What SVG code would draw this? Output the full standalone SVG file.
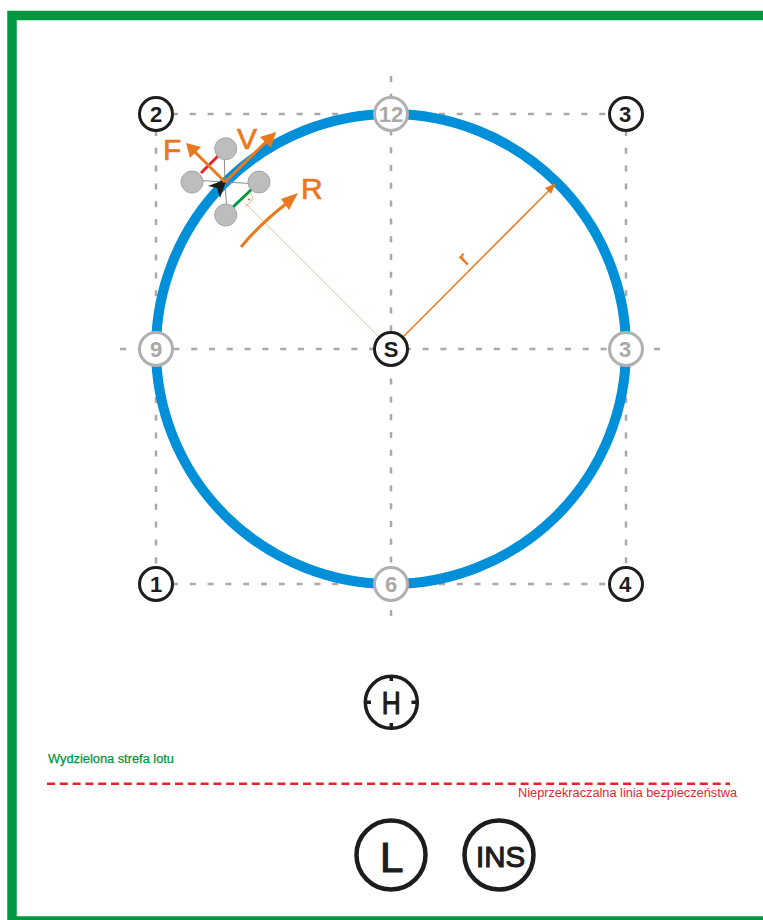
<svg xmlns="http://www.w3.org/2000/svg" width="763" height="920" viewBox="0 0 763 920">
<style>
text{font-family:"Liberation Sans",Arial,sans-serif}
.grid{fill:none;stroke:#a9a9a9;stroke-width:2.500;stroke-dasharray:6 11.800}
.n{fill:#fff;stroke:#1d1d1b;stroke-width:3}
.g{fill:#fff;stroke:#b0b0b0;stroke-width:3}
.nt{font-size:22px;font-weight:700;text-anchor:middle;fill:#1d1d1b}
.gt{font-size:22px;font-weight:700;text-anchor:middle;fill:#a9a9a9}
.rotor{fill:#bdbdbd;stroke:#a5a5a5;stroke-width:1}
.big{font-size:30px;fill:#e8791e;stroke:#e8791e;stroke-width:0.700}
.arm{stroke:#8a8a8a;stroke-width:1;fill:none}
.or{stroke:#e8791e;fill:none}
.head{fill:#e8791e}
.blk{fill:#1d1d1b;stroke:#1d1d1b}
</style>
<rect id="frame" x="12" y="15.500" width="760" height="905.500" fill="#fff" stroke="#009640" stroke-width="9.500"/>
<g id="connectors">
<path class="grid" d="M120 349H660M391 76V618M172 114H612M172 584H612M156 130V568M626 130V568"/>
<circle cx="391" cy="349" r="235" fill="none" stroke="#0090da" stroke-width="10"/>
<path d="M245 203L382 340" fill="none" stroke="#f5c49a" stroke-width="1"/>
<path d="M250.700 193.300Q256 200 245 206.500" fill="none" stroke="#f0a060" stroke-width="0.800"/>
<circle cx="249" cy="199.500" r="1.100" fill="#e8791e"/>
<path class="or" stroke-width="1.500" d="M403 337L550 189.500"/>
<path class="head" d="M556 183L551 194 545 188Z"/>
</g>
<g id="node-2"><circle class="n" cx="156" cy="114" r="16.500"/><text class="nt" x="156" y="121.800">2</text></g>
<g id="node-12"><circle class="g" cx="391" cy="114" r="16.500"/><text class="gt" x="391" y="121.800">12</text></g>
<g id="node-3a"><circle class="n" cx="626" cy="114" r="16.500"/><text class="nt" x="625" y="121.800">3</text></g>
<g id="node-9"><circle class="g" cx="156" cy="349" r="16.500"/><text class="gt" x="156" y="356.800">9</text></g>
<g id="node-S"><circle class="n" cx="391" cy="349" r="16.500"/><text class="nt" x="391" y="356.800">S</text></g>
<g id="node-3b"><circle class="g" cx="626" cy="349" r="16.500"/><text class="gt" x="625" y="356.800">3</text></g>
<g id="node-1"><circle class="n" cx="156" cy="584" r="16.500"/><text class="nt" x="156" y="591.800">1</text></g>
<g id="node-6"><circle class="g" cx="391" cy="584" r="16.500"/><text class="gt" x="391" y="591.800">6</text></g>
<g id="node-4"><circle class="n" cx="626" cy="584" r="16.500"/><text class="nt" x="625" y="591.800">4</text></g>
<g id="drone">
<path class="arm" d="M225 182L224 148M225 182L192 180M225 182L259 184M225 182L227 215"/>
<path d="M201 173L218 156" stroke="#e3262e" stroke-width="3" fill="none"/>
<path d="M233 207L252 189" stroke="#009640" stroke-width="3" fill="none"/>
<circle class="rotor" cx="225.700" cy="148.700" r="11"/>
<circle class="rotor" cx="192" cy="182" r="11"/>
<circle class="rotor" cx="259" cy="182" r="11"/>
<circle class="rotor" cx="225.700" cy="215" r="11"/>
<path d="M208 186L227 179 220 198 217 188Z" fill="#1d1d1b"/>
</g>
<g id="vectors">
<path class="or" stroke-width="3" d="M225 182L192 149M225 182L268 140"/>
<path class="head" d="M186 143L201 147 190 158Z"/>
<path class="head" d="M276 132L271 148 260 137Z"/>
<path class="or" stroke-width="3" d="M241 247Q260 224 287 203"/>
<path class="head" d="M298 193L289 210 281 199Z"/>
<text class="big" x="163" y="160">F</text>
<text class="big" x="237" y="149">V</text>
<text class="big" x="301" y="199">R</text>
<text x="465" y="265" font-size="21" fill="#e8791e" stroke="#e8791e" stroke-width="0.500" text-anchor="middle" transform="rotate(-45 465 260)">r</text>
</g>
<g id="node-H"><circle cx="391.300" cy="702.300" r="26" fill="#fff" stroke="#1d1d1b" stroke-width="3.500"/>
<path d="M391.300 675V681M391.300 723V729.500M364.500 702.300H371M411.500 702.300H418" stroke="#1d1d1b" stroke-width="3.500"/>
<text class="blk" x="391.300" y="713.500" font-size="31" text-anchor="middle" stroke-width="1.100" textLength="19" lengthAdjust="spacingAndGlyphs">H</text></g>
<g id="node-L"><circle cx="391" cy="855" r="34.500" fill="#fff" stroke="#1d1d1b" stroke-width="4.500"/>
<text class="blk" x="380" y="872" font-size="42" stroke-width="1.200">L</text></g>
<g id="node-INS"><circle cx="499" cy="855" r="34.500" fill="#fff" stroke="#1d1d1b" stroke-width="4.500"/>
<text class="blk" x="500.500" y="867" font-size="29" text-anchor="middle" stroke-width="1.100" textLength="49" lengthAdjust="spacingAndGlyphs">INS</text></g>
<g id="zone">
<text x="48" y="763" font-size="12.500" fill="#009640" stroke="#009640" stroke-width="0.250" textLength="126" lengthAdjust="spacingAndGlyphs">Wydzielona strefa lotu</text>
<path d="M47 783.700H730" stroke="#e3262e" stroke-width="2.500" stroke-dasharray="8 4.800" fill="none"/>
<text x="518" y="797" font-size="12.500" fill="#e3262e" textLength="219" lengthAdjust="spacingAndGlyphs">Nieprzekraczalna linia bezpieczeństwa</text>
</g>
</svg>
